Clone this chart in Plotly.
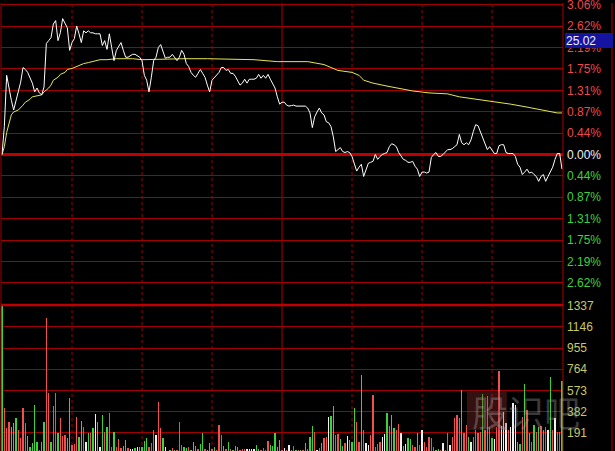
import plotly.graph_objects as go

# ---------------- data ----------------
# minute index 0..240 (09:30-11:30, 13:00-15:00); price change in percent
price_pct = [
    0.00, 0.57, 1.62, 1.32, 1.11, 0.91, 1.11, 1.26, 1.48, 1.78,
    1.74, 1.68, 1.56, 1.46, 1.28, 1.36, 1.26, 1.22, 1.38, 2.27,
    2.33, 2.39, 2.67, 2.74, 2.33, 2.49, 2.78, 2.69, 2.59, 2.13,
    2.29, 2.37, 2.63, 2.47, 2.29, 2.53, 2.49, 2.53, 2.49, 2.49,
    2.47, 2.47, 2.47, 2.23, 2.33, 2.15, 2.47, 2.19, 1.92, 2.13,
    2.21, 2.29, 2.13, 1.99, 1.99, 2.03, 2.05, 2.05, 2.01, 1.99,
    1.92, 1.62, 1.52, 1.28, 1.58, 1.92, 1.99, 2.19, 2.25, 2.13,
    1.97, 1.99, 1.99, 2.05, 1.97, 1.92, 1.99, 2.13, 2.05, 1.86,
    1.80, 1.68, 1.62, 1.58, 1.66, 1.74, 1.66, 1.58, 1.42, 1.28,
    1.52, 1.58, 1.62, 1.68, 1.78, 1.78, 1.72, 1.74, 1.66, 1.66,
    1.60, 1.52, 1.42, 1.46, 1.54, 1.46, 1.54, 1.54, 1.54, 1.56,
    1.64, 1.56, 1.62, 1.56, 1.64, 1.54, 1.46, 1.36, 1.18, 1.03,
    1.07,
    1.07, 1.01, 0.99, 1.00, 1.01, 0.99, 0.99, 0.99, 0.99, 0.99,
    0.95, 0.85, 0.55, 0.77, 0.87, 0.95, 0.85, 0.81, 0.67, 0.65,
    0.57, 0.36, 0.06, 0.10, 0.14, 0.06, 0.04, 0.06, 0.04, -0.04,
    -0.20, -0.34, -0.26, -0.20, -0.45, -0.30, -0.18, -0.16, -0.14, 0.00,
    -0.10, -0.04, 0.00, 0.02, 0.04, 0.16, 0.22, 0.20, 0.16, 0.04,
    -0.04, -0.10, -0.12, -0.16, -0.16, -0.14, -0.24, -0.30, -0.45, -0.36,
    -0.36, -0.38, -0.36, -0.06, 0.00, 0.04, -0.04, -0.04, 0.00, 0.04,
    0.10, 0.10, 0.12, 0.16, 0.20, 0.41, 0.24, 0.20, 0.24, 0.20,
    0.30, 0.47, 0.61, 0.59, 0.47, 0.36, 0.20, 0.10, 0.16, 0.10,
    0.02, 0.02, 0.18, 0.20, 0.20, 0.04, 0.02, 0.02, 0.02, -0.04,
    -0.20, -0.26, -0.41, -0.36, -0.30, -0.38, -0.36, -0.41, -0.45, -0.55,
    -0.45, -0.41, -0.55, -0.45, -0.36, -0.26, -0.10, 0.02, 0.02, -0.30,
]

# average price line, read at selected minutes
avg_minutes = [0, 1, 2, 3, 4, 5, 7, 9, 10, 12, 13, 15, 17, 18, 20, 21, 22, 24, 25, 27,
               28, 30, 33, 35, 37, 39, 42, 45, 49, 56, 60, 78, 88, 108, 118, 131, 133,
               138, 141, 144, 150, 153, 155, 159, 165, 169, 176, 183, 191, 196, 204,
               210, 218, 225, 232, 238, 240]
avg_pct = [0.00, 0.16, 0.45, 0.65, 0.81, 0.87, 0.91, 1.01, 1.07, 1.13, 1.18, 1.20, 1.22,
           1.28, 1.36, 1.42, 1.52, 1.58, 1.64, 1.68, 1.74, 1.76, 1.82, 1.86, 1.88, 1.90,
           1.94, 1.94, 1.96, 1.96, 1.94, 1.96, 1.96, 1.94, 1.90, 1.90, 1.88, 1.84, 1.78,
           1.72, 1.68, 1.62, 1.52, 1.46, 1.40, 1.36, 1.30, 1.26, 1.24, 1.18, 1.13, 1.09,
           1.03, 0.97, 0.91, 0.85, 0.85]

# volume per minute
volume = [
    1400, 413, 235, 290, 245, 280, 325, 218, 146, 413,
    280, 164, 67, 102, 440, 111, 40, 111, 290, 1222,
    555, 111, 430, 555, 190, 325, 164, 173, 146, 510,
    84, 93, 333, 155, 297, 245, 111, 190, 190, 235,
    360, 290, 67, 350, 200, 245, 368, 67, 200, 67,
    137, 58, 75, 128, 58, 49, 49, 58, 67, 67,
    67, 120, 146, 67, 102, 218, 173, 466, 235, 146,
    67, 30, 40, 58, 35, 40, 290, 84, 67, 58,
    67, 35, 111, 75, 49, 93, 190, 49, 35, 102,
    49, 67, 35, 262, 173, 75, 49, 111, 49, 35,
    75, 67, 35, 49, 49, 49, 49, 49, 49, 84,
    49, 35, 58, 40, 120, 84, 75, 190, 67, 128,
    40,
    58, 35, 84, 35, 75, 40, 35, 40, 35, 102,
    45, 155, 253, 200, 40, 58, 102, 146, 155, 333,
    342, 430, 173, 182, 137, 75, 102, 164, 128, 111,
    413, 290, 111, 715, 218, 102, 84, 173, 537, 67,
    93, 111, 155, 182, 368, 253, 350, 235, 218, 271,
    190, 75, 93, 146, 137, 84, 67, 190, 84, 218,
    111, 67, 155, 146, 67, 40, 49, 35, 102, 40,
    190, 84, 155, 325, 350, 325, 582, 190, 262, 155,
    111, 155, 218, 190, 200, 546, 218, 528, 245, 146,
    137, 245, 750, 253, 377, 280, 218, 245, 457, 440,
    111, 93, 333, 635, 395, 190, 111, 262, 200, 245,
    253, 218, 245, 218, 697, 218, 325, 200, 200, 662,
]
# tick direction of each minute bar (u = up, d = down, f = flat)
direction = [
    "d", "u", "u", "u", "d", "d", "d", "u", "u", "u",
    "u", "d", "d", "d", "d", "d", "u", "d", "d", "u",
    "u", "d", "u", "u", "d", "u", "u", "u", "d", "d",
    "u", "u", "u", "d", "d", "u", "f", "d", "u", "d",
    "f", "d", "f", "d", "u", "d", "u", "u", "d", "u",
    "u", "u", "d", "d", "u", "f", "f", "d", "f", "d",
    "d", "d", "d", "u", "u", "u", "f", "u", "u", "d",
    "f", "u", "d", "u", "d", "u", "u", "u", "d", "d",
    "u", "d", "d", "d", "u", "d", "d", "u", "d", "d",
    "u", "d", "u", "u", "u", "d", "u", "d", "u", "d",
    "d", "d", "u", "u", "u", "f", "f", "f", "f", "d",
    "d", "u", "u", "u", "u", "d", "d", "d", "d", "d",
    "u",
    "f", "u", "f", "d", "u", "d", "u", "d", "u", "d",
    "u", "d", "d", "u", "f", "u", "d", "u", "u", "f",
    "d", "d", "u", "u", "d", "d", "u", "f", "d", "d",
    "d", "u", "u", "d", "u", "f", "f", "u", "u", "u",
    "u", "u", "f", "f", "d", "u", "d", "d", "u", "u",
    "f", "d", "f", "d", "d", "u", "u", "d", "u", "f",
    "u", "u", "u", "u", "u", "d", "d", "u", "f", "u",
    "u", "f", "u", "u", "u", "u", "d", "u", "u", "d",
    "f", "u", "u", "u", "u", "d", "u", "d", "u", "d",
    "f", "u", "u", "f", "f", "f", "u", "f", "f", "f",
    "d", "d", "u", "d", "u", "d", "u", "d", "u", "d",
    "u", "d", "u", "f", "d", "u", "f", "u", "u", "d",
]

# price-axis grid: 14 equal steps of the percentage scale, labels as printed
price_steps = list(range(7, -7, -1))
price_tick_text = ["3.06%", "2.62%", "2.19%", "1.75%", "1.31%", "0.87%", "0.44%",
                   "0.00%", "0.44%", "0.87%", "1.31%", "1.75%", "2.19%", "2.62%"]
pct_step = 0.4375
vol_ticks = [191, 382, 573, 764, 955, 1146, 1337]
time_grid = [30, 60, 90, 120, 150, 180, 210]
current_price = "25.02"

# ---------------- styling ----------------
BG = "#000000"
GRID = "#a00000"
RED_TXT = "#f04848"
GREEN_TXT = "#3cd23c"
WHITE_TXT = "#f0f0f0"
VOL_TXT = "#c8c864"
BAR_COL = {"u": "#f05050", "d": "#3cd23c", "f": "#f0f0f0"}
FONT = "Liberation Sans, Arial, sans-serif"

minutes = list(range(len(price_pct)))
price_tickvals = [k * pct_step for k in price_steps]
price_ticktext = []
for k, txt in zip(price_steps, price_tick_text):
    col = RED_TXT if k > 0 else (GREEN_TXT if k < 0 else WHITE_TXT)
    price_ticktext.append(f'<span style="color:{col}">{txt}</span>')

fig = go.Figure()
fig.add_trace(go.Bar(
    x=minutes, y=volume, xaxis="x", yaxis="y2",
    marker=dict(color=[BAR_COL[d] for d in direction], line=dict(width=0)),
    width=0.45, showlegend=False, hoverinfo="skip",
))
fig.add_trace(go.Scatter(
    x=avg_minutes, y=avg_pct, mode="lines", xaxis="x", yaxis="y",
    line=dict(color="#e6e650", width=1), showlegend=False, hoverinfo="skip",
))
fig.add_trace(go.Scatter(
    x=minutes, y=price_pct, mode="lines", xaxis="x", yaxis="y",
    line=dict(color="#ffffff", width=1), showlegend=False, hoverinfo="skip",
))

split = 0.3259
shapes = []
for t in time_grid:
    shapes.append(dict(type="line", xref="x", yref="paper", x0=t, x1=t, y0=0, y1=1,
                       line=dict(color=GRID if t != 120 else "#b00000", width=1,
                                 dash="solid" if t == 120 else "dot"), layer="below"))
# borders and separators
shapes.append(dict(type="line", xref="paper", yref="paper", x0=0, x1=0, y0=0, y1=1,
                   line=dict(color=GRID, width=1)))
shapes.append(dict(type="line", xref="paper", yref="paper", x0=1, x1=1, y0=0, y1=1,
                   line=dict(color="#b00000", width=1)))
shapes.append(dict(type="line", xref="paper", yref="paper", x0=1.0872, x1=1.0872, y0=0, y1=1,
                   line=dict(color="#b00000", width=1)))
shapes.append(dict(type="line", xref="paper", yref="paper", x0=0, x1=1, y0=split, y1=split,
                   line=dict(color="#c00000", width=2.5)))
# watermark box
shapes.append(dict(type="rect", xref="paper", yref="paper",
                   x0=0.829, x1=0.900, y0=0.047, y1=0.132,
                   fillcolor="rgba(150,50,50,0.35)", line=dict(width=0)))

fig.update_layout(
    width=615, height=451,
    margin=dict(l=1, r=52, t=3, b=0, autoexpand=False),
    paper_bgcolor=BG, plot_bgcolor=BG,
    bargap=0,
    xaxis=dict(range=[-0.43, 240.43], domain=[0, 1], anchor="y2", automargin=False,
               showgrid=False, zeroline=False, showticklabels=False, ticks=""),
    yaxis=dict(domain=[split, 1], range=[-3.08, 3.10], side="right", anchor="x",
               automargin=False, ticklabeloverflow="allow",
               tickvals=price_tickvals, ticktext=price_ticktext,
               showgrid=True, gridcolor=GRID, gridwidth=1,
               zeroline=True, zerolinecolor="#c00000", zerolinewidth=2.5,
               ticks="", ticklabelstandoff=3,
               tickfont=dict(family=FONT, size=12, color=RED_TXT)),
    yaxis2=dict(domain=[0, split], range=[29, 1342], side="right", anchor="x",
                automargin=False, ticklabeloverflow="allow",
                tickvals=vol_ticks, ticktext=[str(v) for v in vol_ticks],
                showgrid=True, gridcolor=GRID, gridwidth=1, zeroline=False,
                ticks="", ticklabelstandoff=3,
                tickfont=dict(family=FONT, size=12, color=VOL_TXT)),
    shapes=shapes,
    annotations=[
        dict(text=current_price, xref="paper", yref="paper", x=1, y=0.9163,
             xanchor="left", yanchor="middle", xshift=2, showarrow=False,
             width=46, height=13, align="left", borderpad=1, borderwidth=0,
             bgcolor="#1414a0", font=dict(family=FONT, size=12, color="#f0f0ff")),
        dict(text="股识吧", xref="paper", yref="paper", x=0.934, y=0.089,
             xanchor="center", yanchor="middle", showarrow=False,
             font=dict(family="Noto Sans CJK SC", size=36, color="rgba(170,170,170,0.35)")),
    ],
)

fig.write_html(
    "out.html",
    config={"displayModeBar": False, "staticPlot": True},
    post_script="document.body.style.margin='0';document.body.style.background='#000';",
)
